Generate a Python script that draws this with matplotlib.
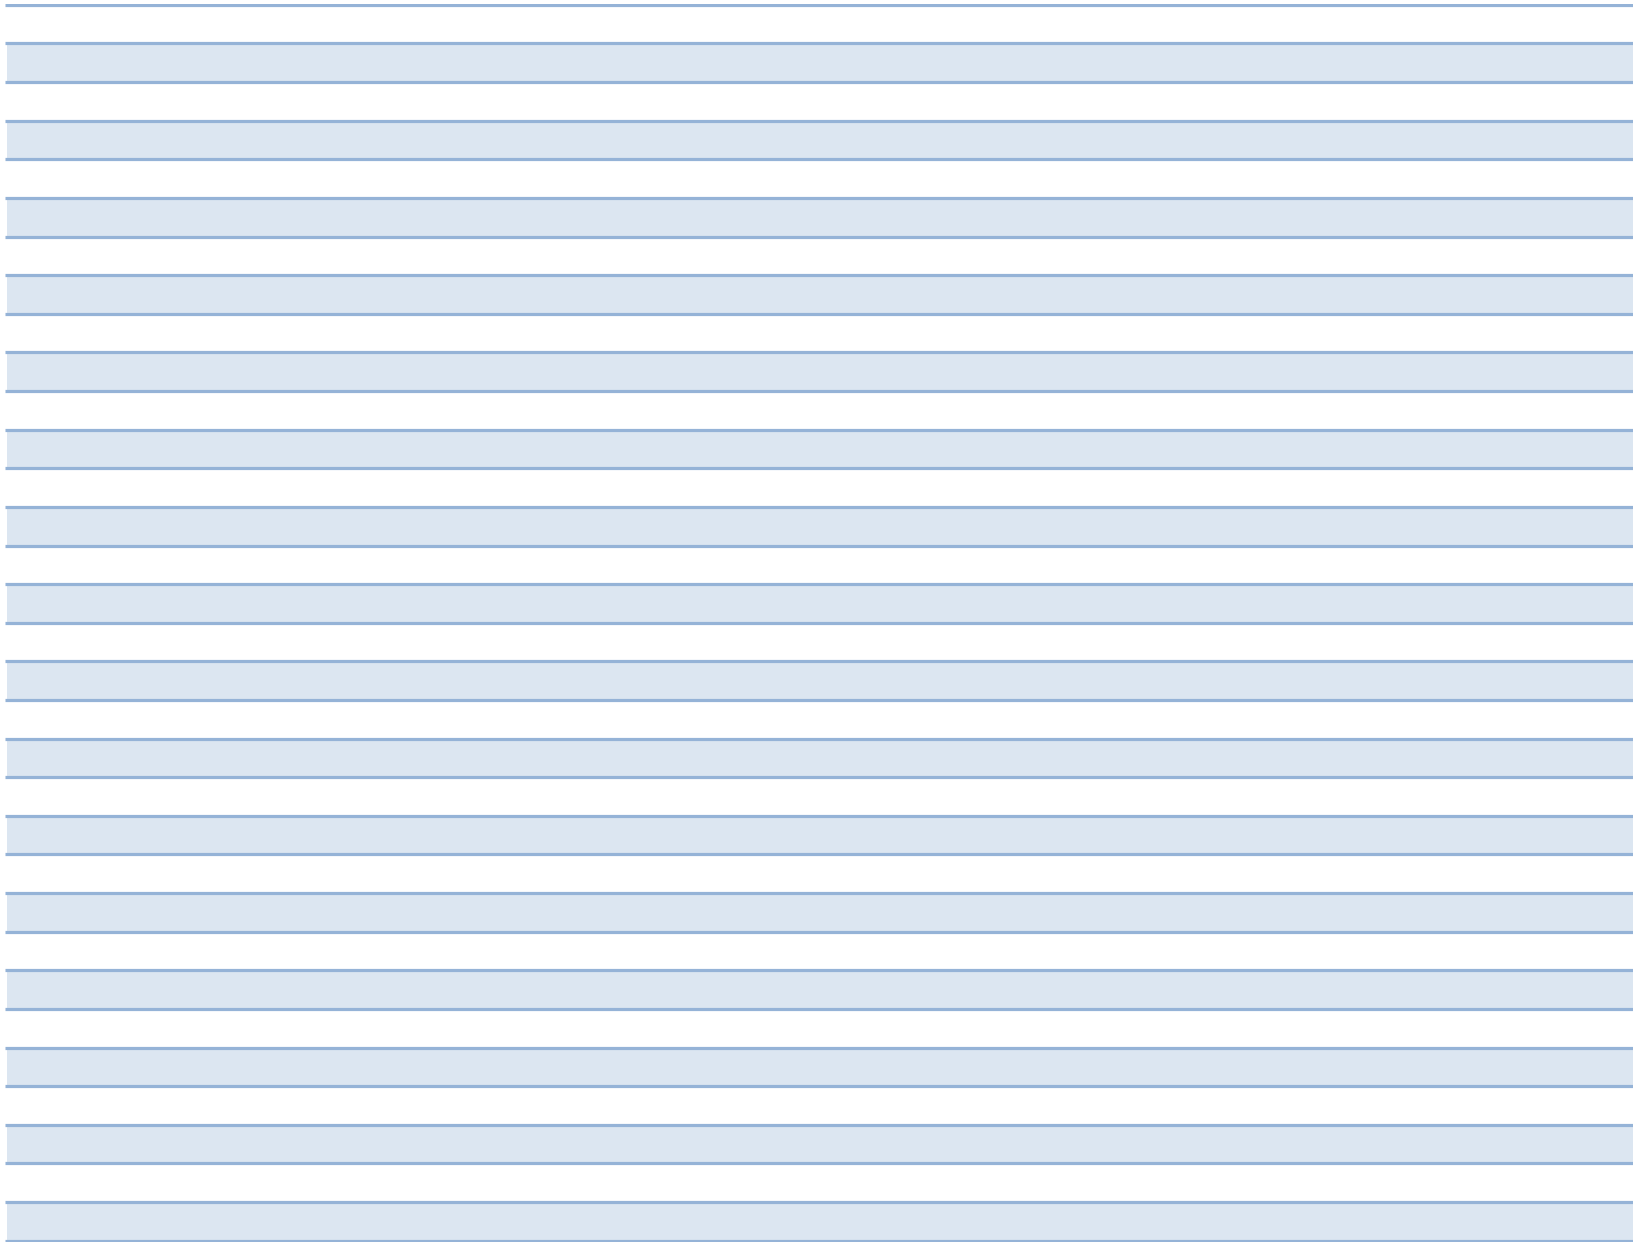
import matplotlib
matplotlib.use('Agg')
from matplotlib import pyplot as plt

# empty table: 32 rows, every second row shaded
row_ids = list(range(32))
row_text = [''] * 32
shaded = [i % 2 == 1 for i in row_ids]

line_color = '#95B3D7'
fill_color = '#DCE6F1'

fig = plt.figure(figsize=(16.4, 12.48), dpi=100)
ax = fig.add_axes([5 / 1640, 1 - 1241.5 / 1248, 1628 / 1640, 1237.5 / 1248])

shaded_rows = [i for i, s in zip(row_ids, shaded) if s]
ax.barh([i + 0.5 for i in shaded_rows], [1.0] * len(shaded_rows), left=0.0012,
        height=1.0, color=fill_color, edgecolor='none', zorder=1)

# row borders
ax.hlines(list(range(len(row_ids) + 1)), 0, 1, colors=line_color, linewidth=2.3, zorder=2)

for i, t in zip(row_ids, row_text):
    ax.text(0.01, i + 0.5, t, va='center', ha='left')

ax.set_xlim(0, 1)
ax.set_ylim(len(row_ids) + 0.02, -0.02)
ax.axis('off')

fig.savefig('out.png', dpi=100, facecolor='white')
